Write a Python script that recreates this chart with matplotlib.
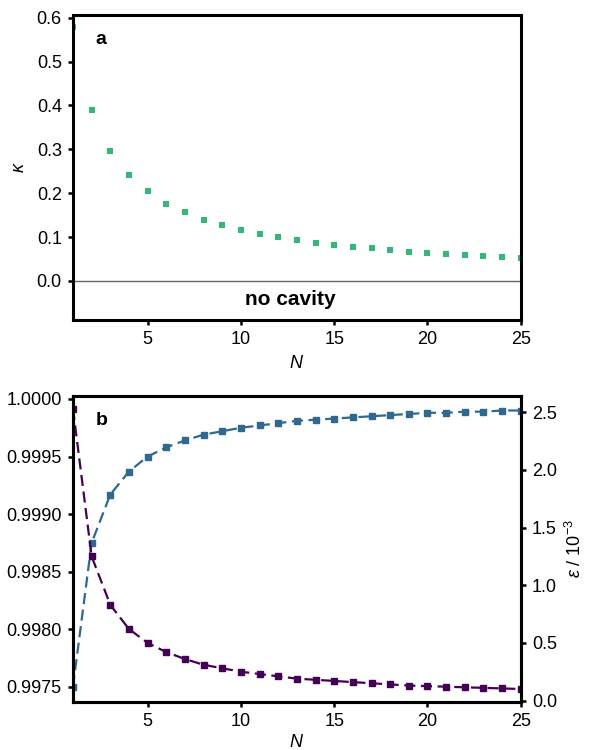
import matplotlib
matplotlib.use('Agg')
import matplotlib.pyplot as plt
import numpy as np

plt.rcParams['font.family'] = ['Liberation Sans', 'DejaVu Sans']
plt.rcParams['mathtext.fontset'] = 'custom'
plt.rcParams['mathtext.it'] = 'Liberation Sans:italic'
plt.rcParams['mathtext.rm'] = 'Liberation Sans'

# data
N = np.arange(1, 26)
kappa = [0.578, 0.389, 0.296, 0.242, 0.204, 0.176, 0.156, 0.140, 0.127, 0.116,
         0.107, 0.100, 0.094, 0.087, 0.083, 0.078, 0.074, 0.071, 0.067, 0.064,
         0.061, 0.059, 0.057, 0.055, 0.053]
fidelity = [0.99750, 0.99875, 0.99917, 0.99937, 0.99950, 0.99958, 0.99964,
            0.99969, 0.99972, 0.99975, 0.99977, 0.99979, 0.99981, 0.99982,
            0.99983, 0.99984, 0.99985, 0.99986, 0.99987, 0.99988, 0.99988,
            0.99989, 0.99989, 0.99990, 0.99990]
eps = [2.53, 1.25, 0.83, 0.62, 0.50, 0.42, 0.36, 0.31, 0.28, 0.25,
       0.23, 0.21, 0.19, 0.18, 0.17, 0.16, 0.15, 0.14, 0.13, 0.125,
       0.12, 0.115, 0.11, 0.105, 0.10]

green = '#35b779'
blue = '#31688e'
purple = '#440154'
fs = 13

fig = plt.figure(figsize=(5.9, 7.5), dpi=100)
ax1 = fig.add_axes([0.1237, 0.5740, 0.7590, 0.4064])
ax2 = fig.add_axes([0.1237, 0.0644, 0.7590, 0.4076])
ax3 = ax2.twinx()


def style(ax):
    for s in ax.spines.values():
        s.set_linewidth(2.2)
    ax.tick_params(labelsize=fs, width=1.8, length=3.5, pad=4.5)


# panel a
ax1.plot(N, kappa, 's', color=green, markersize=5, markeredgewidth=0)
ax1.axhline(0, color='#666666', lw=1)
ax1.set_xlim(1, 25)
ax1.set_ylim(-0.088, 0.607)
ax1.set_xticks([5, 10, 15, 20, 25])
ax1.set_yticks([0.0, 0.1, 0.2, 0.3, 0.4, 0.5, 0.6])
ax1.set_xlabel('$N$', fontsize=fs, labelpad=5)
ax1.set_ylabel('$\\kappa$', fontsize=fs, labelpad=6)
ax1.text(0.05, 0.92, 'a', transform=ax1.transAxes, fontsize=14, fontweight='bold', va='center')
ax1.text(12.65, -0.042, 'no cavity', fontsize=15, fontweight='bold', ha='center', va='center')
style(ax1)

# panel b
ax2.plot(N, fidelity, 's--', color=blue, markersize=5, lw=1.6, dashes=(5, 2.5))
ax3.plot(N, eps, 's--', color=purple, markersize=5, lw=1.6, dashes=(5, 2.5))
ax2.set_xlim(1, 25)
ax2.set_ylim(0.99737, 1.000026)
ax3.set_ylim(-0.01, 2.641)
ax2.set_xticks([5, 10, 15, 20, 25])
ax2.set_yticks([0.9975, 0.998, 0.9985, 0.999, 0.9995, 1.0])
ax2.set_yticklabels(['0.9975', '0.9980', '0.9985', '0.9990', '0.9995', '1.0000'])
ax3.set_yticks([0.0, 0.5, 1.0, 1.5, 2.0, 2.5])
ax3.set_yticklabels(['0.0', '0.5', '1.0', '1.5', '2.0', '2.5'])
ax2.set_xlabel('$N$', fontsize=fs, labelpad=3)
ax3.set_ylabel('$\\varepsilon$ / 10$^{-3}$', fontsize=fs, labelpad=6)
ax2.text(0.05, 0.92, 'b', transform=ax2.transAxes, fontsize=14, fontweight='bold', va='center')
style(ax2)
style(ax3)

fig.savefig('out.png', dpi=100)
